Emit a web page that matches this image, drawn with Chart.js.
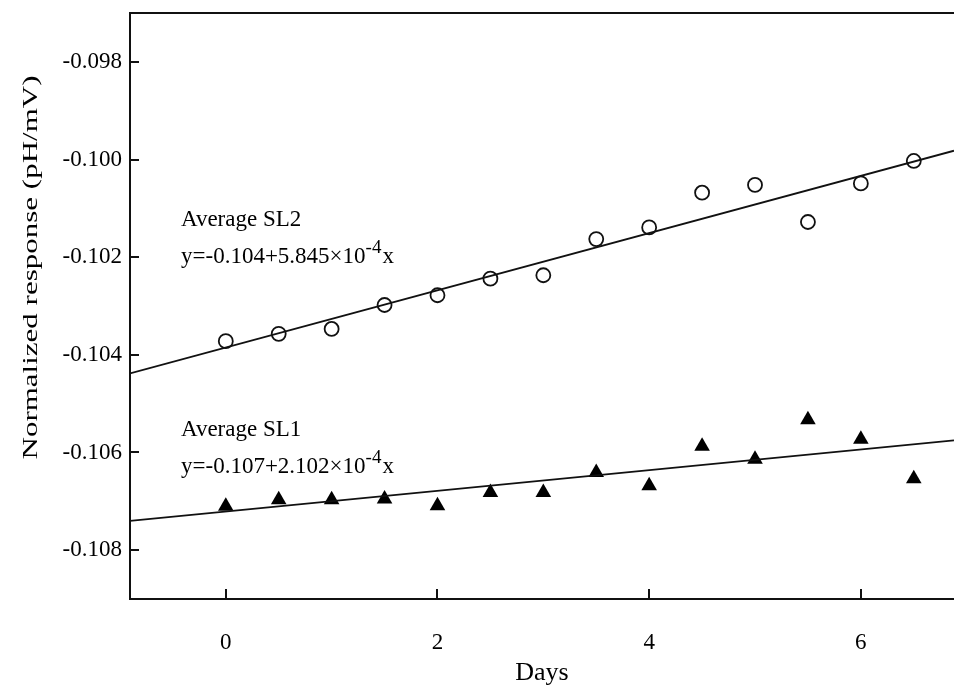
<!DOCTYPE html>
<html>
<head>
<meta charset="utf-8">
<title>Normalized response vs days</title>
<script src="https://cdn.jsdelivr.net/npm/chart.js@4.4.1/dist/chart.umd.min.js"></script>
<style>
  html, body { margin: 0; padding: 0; background: #fff; }
</style>
</head>
<body>
<canvas id="responseChart" width="954" height="686"></canvas>
<script>
// values
const days = [0, 0.5, 1, 1.5, 2, 2.5, 3, 3.5, 4, 4.5, 5, 5.5, 6, 6.5];
const sl2 = [-0.10372, -0.10357, -0.10347, -0.10298, -0.10278, -0.10244, -0.10237,
             -0.10163, -0.10139, -0.10068, -0.10052, -0.10128, -0.10049, -0.10003];
const sl1 = [-0.10710, -0.10697, -0.10697, -0.10695, -0.10709, -0.10682, -0.10682,
             -0.10641, -0.10668, -0.10587, -0.10614, -0.10533, -0.10573, -0.10654];

// regression lines, taken at the left and right edge of the plot
const fitDays = [-0.905, 6.88];
const sl2Fit = [-0.10438, -0.09982];
const sl1Fit = [-0.10740, -0.10575];

const xTicks = [0, 2, 4, 6];
const yTicks = [-0.108, -0.106, -0.104, -0.102, -0.100, -0.098];

const sl2Text = ['Average SL2', 'y=-0.104+5.845×10', '-4', 'x'];
const sl1Text = ['Average SL1', 'y=-0.107+2.102×10', '-4', 'x'];
const yTitle = 'Normalized response (pH/mV)';

const SERIF = "'Liberation Serif', 'Times New Roman', serif";
const ink = '#111';

const toPoints = (xs, ys) => xs.map((x, i) => ({ x: x, y: ys[i] }));

// draws the equation block: name, then "y=...×10" with superscript and trailing x
function drawEquation(ctx, lines, x, y) {
    ctx.font = '23px ' + SERIF;
    ctx.fillText(lines[0], x, y);
    const y2 = y + 36.6;
    ctx.fillText(lines[1], x, y2);
    let w = ctx.measureText(lines[1]).width;
    ctx.font = '19px ' + SERIF;
    ctx.fillText(lines[2], x + w, y2 - 10);
    w += ctx.measureText(lines[2]).width + 1;
    ctx.font = '23px ' + SERIF;
    ctx.fillText(lines[3], x + w, y2);
}

const framePlugin = {
    id: 'frame',
    afterDraw(chart) {
        const { ctx, chartArea: a, scales: { x, y } } = chart;
        ctx.save();
        ctx.strokeStyle = ink;
        ctx.lineWidth = 2;

        // top border (the right side is cut off in the original)
        ctx.beginPath();
        ctx.moveTo(a.left - 1, a.top);
        ctx.lineTo(a.right, a.top);
        ctx.stroke();

        // inward tick marks
        ctx.beginPath();
        y.ticks.forEach(t => {
            const py = Math.round(y.getPixelForValue(t.value));
            ctx.moveTo(a.left, py);
            ctx.lineTo(a.left + 9, py);
        });
        x.ticks.forEach(t => {
            const px = Math.round(x.getPixelForValue(t.value));
            ctx.moveTo(px, a.bottom);
            ctx.lineTo(px, a.bottom - 10);
        });
        ctx.stroke();

        // y axis title, drawn tall and narrow like the source
        ctx.fillStyle = '#000';
        ctx.save();
        ctx.translate(37, (a.top + a.bottom) / 2 - 38.5);
        ctx.rotate(-Math.PI / 2);
        ctx.scale(1.55, 1);
        ctx.font = '20px ' + SERIF;
        ctx.textAlign = 'center';
        ctx.textBaseline = 'alphabetic';
        ctx.fillText(yTitle, 0, 0);
        ctx.restore();

        // equations
        ctx.textAlign = 'left';
        ctx.textBaseline = 'alphabetic';
        drawEquation(ctx, sl2Text, a.left + 51, a.top + 213.4);
        drawEquation(ctx, sl1Text, a.left + 51, a.top + 423.2);
        ctx.restore();
    }
};

const ctx = document.getElementById('responseChart').getContext('2d');

const responseChart = new Chart(ctx, {
    type: 'scatter',
    data: {
        datasets: [
            {
                label: 'SL2 fit',
                data: toPoints(fitDays, sl2Fit),
                showLine: true,
                borderColor: ink,
                borderWidth: 1.8,
                pointRadius: 0
            },
            {
                label: 'SL1 fit',
                data: toPoints(fitDays, sl1Fit),
                showLine: true,
                borderColor: ink,
                borderWidth: 1.8,
                pointRadius: 0
            },
            {
                label: 'Average SL2',
                data: toPoints(days, sl2),
                pointStyle: 'circle',
                pointRadius: 7,
                pointBorderWidth: 1.8,
                pointBorderColor: ink,
                pointBackgroundColor: 'rgba(0,0,0,0)'
            },
            {
                label: 'Average SL1',
                data: toPoints(days, sl1),
                pointStyle: 'triangle',
                pointRadius: 9,
                pointBorderWidth: 0,
                pointBackgroundColor: '#000'
            }
        ]
    },
    options: {
        responsive: false,
        animation: false,
        devicePixelRatio: 1,
        layout: {
            autoPadding: false,
            padding: { top: 13, right: 0, bottom: 0, left: 0 }
        },
        plugins: {
            legend: { display: false },
            tooltip: { enabled: false }
        },
        scales: {
            x: {
                type: 'linear',
                min: -0.905,
                max: 6.88,
                afterBuildTicks: s => { s.ticks = xTicks.map(v => ({ value: v })); },
                afterFit: s => {
                    s.height = 87;
                    s.paddingLeft = 0;
                    s.paddingRight = 0;
                },
                grid: { display: false, drawTicks: false },
                border: { display: true, color: ink, width: 2 },
                ticks: {
                    color: '#000',
                    padding: 30,
                    maxRotation: 0,
                    font: { family: SERIF, size: 23 }
                },
                title: {
                    display: true,
                    text: 'Days',
                    color: '#000',
                    padding: { top: 0, bottom: -3 },
                    font: { family: SERIF, size: 26 }
                }
            },
            y: {
                type: 'linear',
                min: -0.109,
                max: -0.097,
                afterBuildTicks: s => { s.ticks = yTicks.map(v => ({ value: v })); },
                afterFit: s => {
                    s.width = 130;
                    s.paddingTop = 0;
                    s.paddingBottom = 0;
                },
                grid: { display: false, drawTicks: false },
                border: { display: true, color: ink, width: 2 },
                ticks: {
                    color: '#000',
                    padding: 8,
                    font: { family: SERIF, size: 23 },
                    callback: v => v.toFixed(3)
                },
                title: { display: false }
            }
        }
    },
    plugins: [framePlugin]
});
</script>
</body>
</html>
